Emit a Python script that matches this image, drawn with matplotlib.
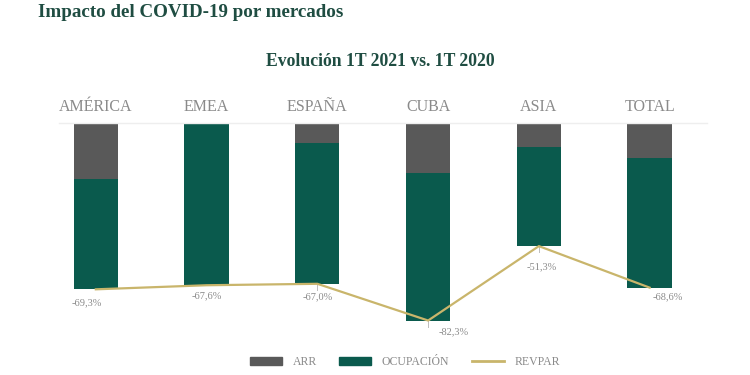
import matplotlib
matplotlib.use("Agg")
import matplotlib.pyplot as plt
from matplotlib.patches import Patch
from matplotlib.lines import Line2D
import numpy as np

categories = ["AMÉRICA", "EMEA", "ESPAÑA", "CUBA", "ASIA", "TOTAL"]
arr = [-23.3, -0.3, -8.3, -20.7, -10.0, -14.6]
ocupacion = [-46.0, -67.3, -58.7, -61.6, -41.3, -54.0]
revpar = [-69.3, -67.6, -67.0, -82.3, -51.3, -68.6]
revpar_labels = ["-69,3%", "-67,6%", "-67,0%", "-82,3%", "-51,3%", "-68,6%"]

c_arr = "#595959"
c_ocu = "#0a5a4d"
c_rev = "#c9b56b"
c_txt = "#8a8a8a"
c_title = "#1f4d42"
serif = ["Liberation Serif", "DejaVu Serif"]

fig = plt.figure(figsize=(7.5, 3.75), dpi=100)
fig.patch.set_facecolor("white")
ax = fig.add_axes([0.079, 0.096, 0.864, 0.576])

x = np.arange(len(categories))
w = 0.40
ax.bar(x, arr, width=w, color=c_arr, label="ARR", zorder=2)
ax.bar(x, ocupacion, width=w, bottom=arr, color=c_ocu, label="OCUPACIÓN", zorder=2)
ax.plot(x, revpar, color=c_rev, lw=1.6, label="REVPAR", zorder=3)

offsets = [(-0.08, -5.5), (0.0, -4.5), (0.0, -5.5), (0.23, -4.5), (0.03, -8.5), (0.16, -4.0)]
for i, (lab, v) in enumerate(zip(revpar_labels, revpar)):
    dx, dy = offsets[i]
    ax.text(x[i] + dx, v + dy, lab, ha="center", va="center", fontsize=7.5,
            color=c_txt, family=serif, zorder=4)
for i in [2, 3, 4]:
    ax.plot([x[i], x[i]], [revpar[i], revpar[i] - 2.5], color="#bdbdbd", lw=0.7, zorder=1)

ax.set_xlim(-0.33, 5.52)
ax.set_ylim(-90, 0)
for s in ["left", "right", "bottom"]:
    ax.spines[s].set_visible(False)
ax.spines["top"].set_color("#eeeeee")
ax.spines["top"].set_linewidth(1.0)
ax.set_yticks([])
ax.xaxis.tick_top()
ax.set_xticks(x)
ax.set_xticklabels(categories, family=serif, fontsize=11.5, color=c_txt)
ax.tick_params(axis="x", length=0, pad=6)

fig.text(0.051, 0.967, "Impacto del COVID-19 por mercados", fontsize=13.7, fontweight="bold",
         color=c_title, family=serif, ha="left", va="center")
fig.text(0.507, 0.835, "Evolución 1T 2021 vs. 1T 2020", fontsize=12.7, fontweight="bold",
         color=c_title, family=serif, ha="center", va="center")

handles = [Patch(color=c_arr), Patch(color=c_ocu), Line2D([0], [0], color=c_rev, lw=2)]
leg = fig.legend(handles, ["ARR", "OCUPACIÓN", "REVPAR"], loc="center", ncol=3,
                 bbox_to_anchor=(0.54, 0.035), frameon=False, handlelength=2.7,
                 handleheight=0.65, columnspacing=1.9, handletextpad=0.9,
                 prop={"family": serif, "size": 8.5})
for t in leg.get_texts():
    t.set_color(c_txt)

fig.savefig("out.png", dpi=100, facecolor="white")
